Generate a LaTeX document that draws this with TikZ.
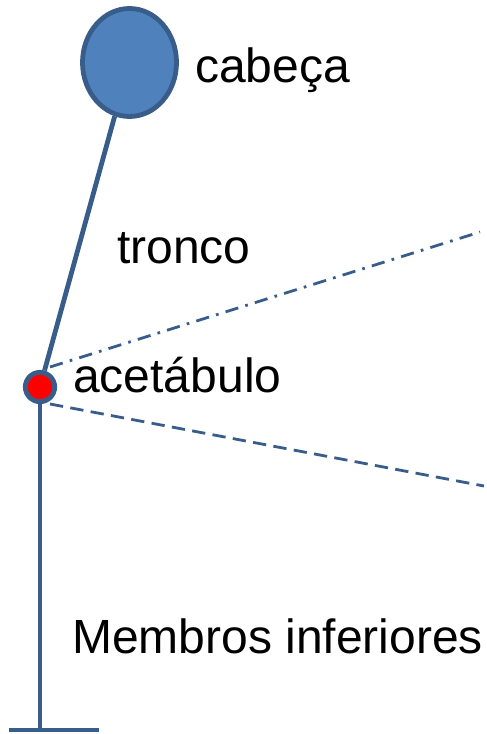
\documentclass[tikz,border=0pt]{standalone}
\usepackage{fontspec}
\setmainfont{Liberation Sans}
\usetikzlibrary{shapes.geometric}
\definecolor{bodyblue}{HTML}{4F81BD}
\definecolor{edgeblue}{HTML}{385D8A}
\begin{document}
\begin{tikzpicture}[x=0.75pt,y=-0.75pt,
  limb/.style={draw=edgeblue,line width=3.6pt},
  guide/.style={draw=edgeblue,line width=2.1pt},
  lbl/.style={anchor=base west,inner sep=0pt,font=\fontsize{36pt}{43pt}\selectfont}]
\useasboundingbox (0,0) rectangle (486,734);
\node[ellipse,draw=edgeblue,fill=bodyblue,line width=3.6pt,minimum width=70.5pt,minimum height=81pt,inner sep=0pt] (head) at (129.5,62.5) {};
\coordinate (footc) at (40,730);
\coordinate (footl) at (9,730);
\coordinate (footr) at (99,730);
\coordinate (dd) at (480,232);
\coordinate (ds) at (484,486);
\coordinate (dds) at (50,367);
\coordinate (dss) at (50,404);
\path[guide,dash pattern=on 10pt off 5.5pt on 2pt off 5.5pt] (dds) -- (dd);
\path[guide,dash pattern=on 10pt off 5.5pt] (dss) -- (ds);
\node[circle,draw=edgeblue,fill=red,line width=3.6pt,minimum size=22pt,inner sep=0pt] (acet) at (40,387) {};
\path[limb] (acet) -- (head);
\path[limb] (acet) -- (footc);
\path[limb] (footl) -- (footr);
\node[lbl] (tcab) at (195,83) {cabeça};
\node[lbl] (ttro) at (117,263) {tronco};
\node[lbl] (tace) at (73,392) {acetábulo};
\node[lbl] (tmem) at (72,653) {Membros inferiores};
\end{tikzpicture}
\end{document}
